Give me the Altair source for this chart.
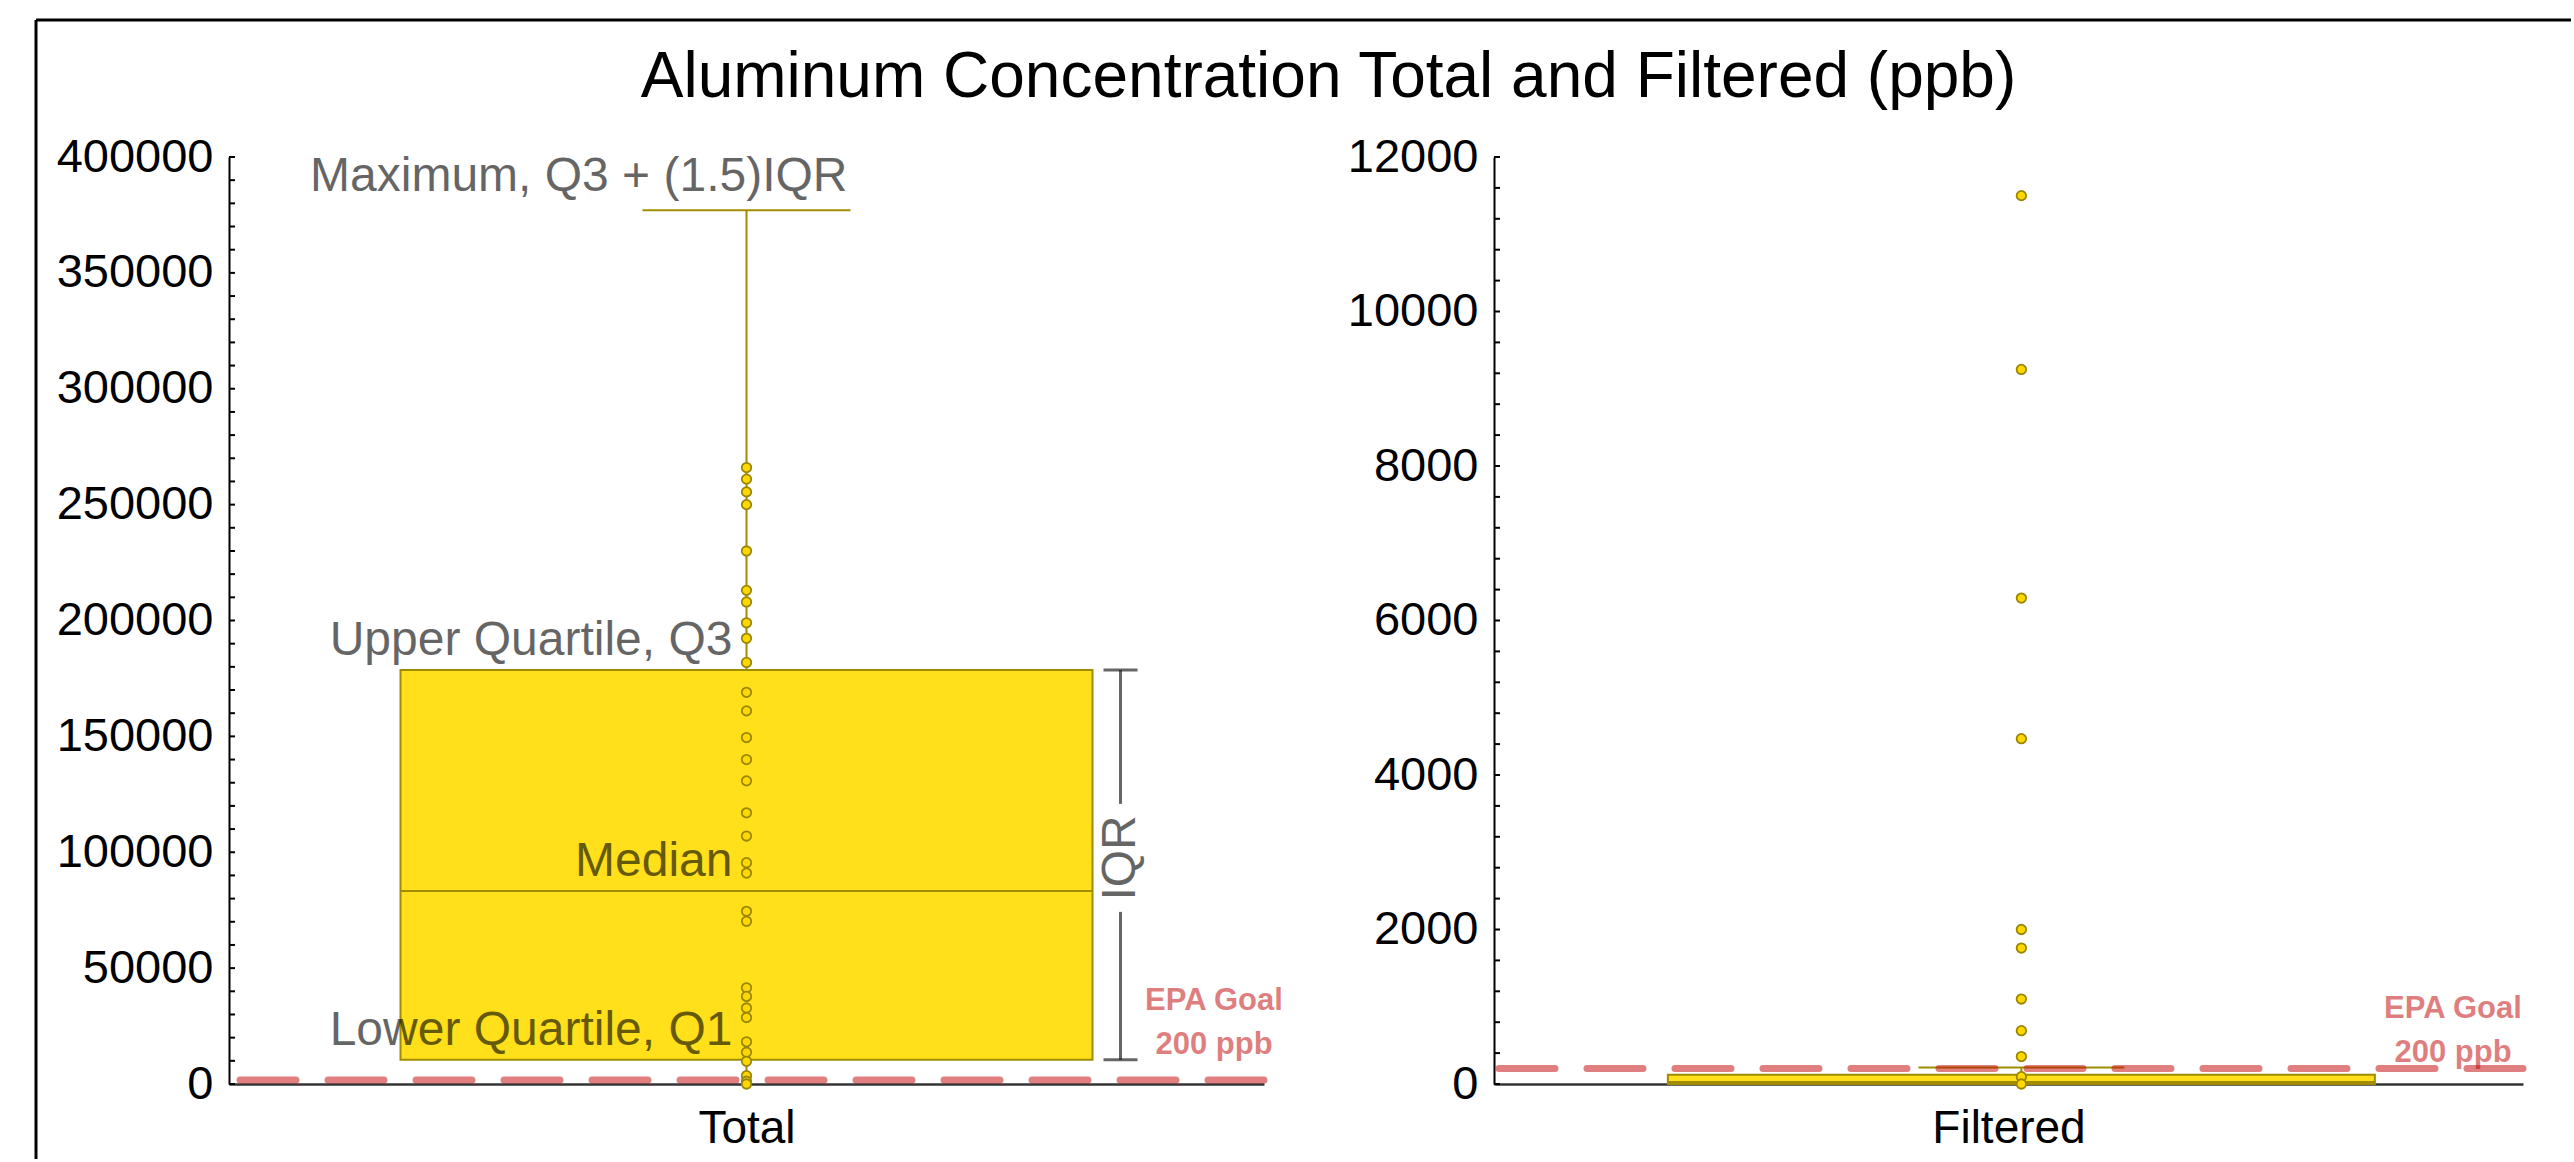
import altair as alt
import pandas as pd

FONT = "Liberation Sans"

# ---- data -------------------------------------------------------------
title_text = "Aluminum Concentration Total and Filtered (ppb)"
groups = ["Total", "Filtered"]

# individual samples (ppb)
total_values = [266000, 261000, 255500, 250000, 230000, 213000, 208000, 199000,
                192300, 181900, 169000, 161000, 149500, 140000, 130800, 117000,
                107000, 95500, 91000, 74500, 70200, 41500, 37800, 32800, 28700,
                18200, 13700, 9800, 3600, 1200, 0]
filtered_values = [11500, 9250, 6290, 4470, 2000, 1760, 1100, 690, 355, 95, 0]

# box statistics (ppb)
total_stats = {"q1": 10500, "median": 83300, "q3": 178600, "lo": 0, "hi": 377000}
filtered_stats = {"q1": 0, "median": 25, "q3": 120, "lo": 0, "hi": 215}

epa_goal = 200
epa_label = "EPA Goal\n200 ppb"
quartile_labels = ["Upper Quartile, Q3", "Median", "Lower Quartile, Q1"]
maximum_label = "Maximum, Q3 + (1.5)IQR"
iqr_label = "IQR"

y_max = [400000, 12000]
y_label_step = [50000, 2000]
y_minor_step = [10000, 400]

# ---- styles -----------------------------------------------------------
PANEL_H = 927
PANEL_W = [1035, 1029]
PANEL_GAP = 230
BOX_W = [692, 707]
CAP_W = [208, 206]
BAND_ALIGN = [0.5, 0.525]
EPA_INSET = [50, 70]
EPA_DY = [-74, -51]
GOAL_SHIFT = [-3.5, 0]

BOX_FILL = "#ffe01b"
OLIVE = "#a08c00"
POINT_FILL = "#ffd800"
POINT_STROKE = "#9a8600"
GOAL_RED = "#c00000"


def panel(i, values, stats, annotate):
    name = groups[i]
    width = PANEL_W[i]
    ymax = y_max[i]
    yscale = alt.Scale(domain=[0, ymax], nice=False, zero=False)
    yaxis = alt.Axis(values=list(range(0, ymax + 1, y_label_step[i])), format="d",
                     title=None, grid=False, ticks=False, labelFont=FONT,
                     labelFontSize=47, labelColor="black", labelPadding=16,
                     domainColor="black", domainWidth=2)

    def Y(field):
        return alt.Y(field, scale=yscale, axis=yaxis)

    X = alt.X("group:N", title=name,
              scale=alt.Scale(paddingInner=0, paddingOuter=0.5, align=BAND_ALIGN[i]),
              axis=alt.Axis(labels=False, ticks=False, domainColor="#333333",
                            domainWidth=2.5, titleFont=FONT, titleFontSize=46,
                            titleFontWeight="normal", titleColor="black",
                            titlePadding=22))

    st = pd.DataFrame([{"group": name, **stats}])
    pts = pd.DataFrame({"group": name, "value": values})
    base = alt.Chart(st)

    layers = [
        base.mark_bar(width=BOX_W[i], fill=BOX_FILL, stroke=OLIVE, strokeWidth=2,
                      opacity=1).encode(x=X, y=Y("q1:Q"), y2="q3:Q"),
        base.mark_tick(size=BOX_W[i], thickness=2, color=OLIVE, opacity=1)
            .encode(x=X, y=Y("median:Q")),
        base.mark_rule(color=OLIVE, strokeWidth=2).encode(x=X, y=Y("q3:Q"), y2="hi:Q"),
        base.mark_rule(color=OLIVE, strokeWidth=2).encode(x=X, y=Y("lo:Q"), y2="q1:Q"),
        base.mark_tick(size=CAP_W[i], thickness=2, color=OLIVE, opacity=1)
            .encode(x=X, y=Y("hi:Q")),
    ]

    if annotate:
        ann = pd.DataFrame({"group": name, "label": quartile_labels,
                            "value": [stats["q3"], stats["median"], stats["q1"]]})
        layers.append(
            alt.Chart(ann).mark_text(align="right", baseline="alphabetic", dx=-14, dy=-15,
                                     font=FONT, fontSize=48, color="black", opacity=0.6)
            .encode(x=X, y=Y("value:Q"), text="label:N"))
        layers.append(
            base.mark_text(align="right", baseline="alphabetic", dx=101, dy=-19,
                           font=FONT, fontSize=48, color="black", opacity=0.6)
            .encode(x=X, y=Y("hi:Q"), text=alt.value(maximum_label)))

        # IQR bracket to the right of the box
        px_per_unit = PANEL_H / ymax
        bx = width / 2 + BOX_W[i] / 2 + 28
        mid = (stats["q1"] + stats["q3"]) / 2 + 7 / px_per_unit
        gap = 54 / px_per_unit
        seg = pd.DataFrame({"a": [stats["q3"], mid - gap], "b": [mid + gap, stats["q1"]]})
        layers.append(alt.Chart(seg).mark_rule(color="black", opacity=0.6, strokeWidth=3)
                      .encode(x=alt.value(bx), y=Y("a:Q"), y2="b:Q"))
        ends = pd.DataFrame({"e": [stats["q3"], stats["q1"]]})
        layers.append(alt.Chart(ends).mark_rule(color="black", opacity=0.6, strokeWidth=3)
                      .encode(x=alt.value(bx - 17), x2=alt.value(bx + 17), y=Y("e:Q")))
        layers.append(alt.Chart(pd.DataFrame({"m": [mid]}))
                      .mark_text(angle=270, align="center", baseline="middle", font=FONT,
                                 fontSize=48, color="black", opacity=0.6)
                      .encode(x=alt.value(bx), y=Y("m:Q"), text=alt.value(iqr_label)))

        # outer figure frame (top and left edges)
        one = pd.DataFrame({"k": [0]})
        layers.append(alt.Chart(one).mark_rule(color="black", strokeWidth=3)
                      .encode(x=alt.value(-193), x2=alt.value(2342),
                              y=alt.value(-137), y2=alt.value(-137)))
        layers.append(alt.Chart(one).mark_rule(color="black", strokeWidth=3)
                      .encode(x=alt.value(-193), y=alt.value(-137), y2=alt.value(1002)))

    layers.append(
        alt.Chart(pts).mark_point(shape="circle", size=90, fill=POINT_FILL, fillOpacity=1,
                                  stroke=POINT_STROKE, strokeWidth=1.8, opacity=1)
        .encode(x=X, y=Y("value:Q")))

    # inward minor ticks on the value axis
    minor = pd.DataFrame({"t": list(range(0, ymax + 1, y_minor_step[i]))})
    layers.append(alt.Chart(minor).mark_rule(color="black", strokeWidth=2)
                  .encode(x=alt.value(0), x2=alt.value(6), y=Y("t:Q")))

    goal = pd.DataFrame({"goal": [epa_goal]})
    layers.append(alt.Chart(goal).mark_rule(color=GOAL_RED, opacity=0.5, strokeWidth=7,
                                            strokeDash=[56, 32], strokeCap="round",
                                            yOffset=GOAL_SHIFT[i])
                  .encode(y=Y("goal:Q")))
    layers.append(alt.Chart(goal).mark_text(font=FONT, fontSize=31, fontWeight="bold",
                                            color=GOAL_RED, opacity=0.5, align="center",
                                            baseline="alphabetic", lineBreak="\n",
                                            lineHeight=44, dy=EPA_DY[i])
                  .encode(x=alt.value(width - EPA_INSET[i]), y=Y("goal:Q"),
                          text=alt.value(epa_label)))

    return alt.layer(*layers).properties(width=width, height=PANEL_H)


left = panel(0, total_values, total_stats, True)
right = panel(1, filtered_values, filtered_stats, False)

chart = (
    alt.hconcat(left, right, spacing=PANEL_GAP, bounds="flush")
    .properties(
        title=alt.TitleParams(text=title_text, font=FONT, fontSize=64, fontWeight="normal",
                              color="black", anchor="middle", baseline="alphabetic",
                              offset=0, dy=142, dx=25),
        padding={"left": 34, "top": 18, "right": 0, "bottom": 0},
        background="white",
    )
    .configure_view(stroke=None)
)

chart.save("out.html", embed_options={"renderer": "svg", "actions": False})
